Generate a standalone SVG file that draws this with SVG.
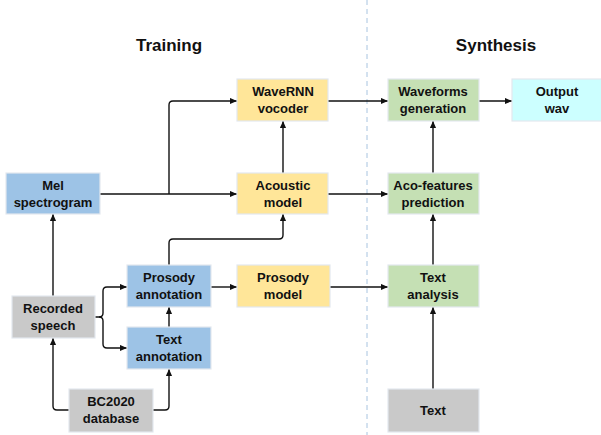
<svg xmlns="http://www.w3.org/2000/svg" width="601" height="435" viewBox="0 0 601 435">
<style>
text{font-family:"Liberation Sans",Arial,sans-serif;font-weight:bold;font-size:13px;fill:#111;text-anchor:middle}
.t{font-size:17px}
.box{stroke:#e3e8ee;stroke-width:1.2}
.blue{fill:#9DC3E6}.yel{fill:#FFE699}.grn{fill:#C5E0B4}.gry{fill:#C9C9C9}.cyn{fill:#CCFFFF}
.c{fill:none;stroke:#111;stroke-width:1.4}
</style>
<defs>
<marker id="a" viewBox="0 0 8 8" refX="8" refY="4" markerWidth="7" markerHeight="7" markerUnits="userSpaceOnUse" orient="auto">
<path d="M0,0.5 L8,4 L0,7.5 z" fill="#111"/>
</marker>
</defs>
<line x1="367" y1="0" x2="367" y2="435" stroke="#a8c4e0" stroke-width="1" stroke-dasharray="5,4"/>
<text class="t" x="169" y="51">Training</text>
<text class="t" x="496" y="51">Synthesis</text>
<g id="connectors">
<path class="c" d="M100,194 H237" marker-end="url(#a)"/>
<path class="c" d="M169,194 V105 Q169,101 173,101 H237" marker-end="url(#a)"/>
<path class="c" d="M283,173 V121" marker-end="url(#a)"/>
<path class="c" d="M328,101 H388" marker-end="url(#a)"/>
<path class="c" d="M328,194 H388" marker-end="url(#a)"/>
<path class="c" d="M479,101 H512" marker-end="url(#a)"/>
<path class="c" d="M433,173 V121" marker-end="url(#a)"/>
<path class="c" d="M433,265 V214" marker-end="url(#a)"/>
<path class="c" d="M433,389 V307" marker-end="url(#a)"/>
<path class="c" d="M330,287 H388" marker-end="url(#a)"/>
<path class="c" d="M211,287 H237" marker-end="url(#a)"/>
<path class="c" d="M169,265 V243 Q169,239 173,239 H279 Q283,239 283,235 V214" marker-end="url(#a)"/>
<path class="c" d="M169,327 V307" marker-end="url(#a)"/>
<path class="c" d="M95,317 H99 Q103,317 103,313 V291 Q103,287 107,287 H127" marker-end="url(#a)"/>
<path class="c" d="M99,317 Q103,317 103,321 V344 Q103,348 107,348 H127" marker-end="url(#a)"/>
<path class="c" d="M53,296 V214" marker-end="url(#a)"/>
<path class="c" d="M69,410 H57 Q53,410 53,406 V338" marker-end="url(#a)"/>
<path class="c" d="M153,410 H165 Q169,410 169,406 V369" marker-end="url(#a)"/>
</g>
<g id="mel"><rect class="box blue" x="6" y="173" width="94" height="41"/><text x="53" y="190">Mel</text><text x="53" y="207">spectrogram</text></g>
<g id="wavernn"><rect class="box yel" x="237" y="79" width="91" height="42"/><text x="283" y="96">WaveRNN</text><text x="283" y="113">vocoder</text></g>
<g id="acoustic"><rect class="box yel" x="237" y="173" width="91" height="41"/><text x="283" y="190">Acoustic</text><text x="283" y="207">model</text></g>
<g id="prosody-model"><rect class="box yel" x="237" y="265" width="93" height="42"/><text x="283" y="282">Prosody</text><text x="283" y="299">model</text></g>
<g id="prosody-annotation"><rect class="box blue" x="127" y="265" width="84" height="42"/><text x="169" y="282">Prosody</text><text x="169" y="299">annotation</text></g>
<g id="text-annotation"><rect class="box blue" x="127" y="327" width="84" height="42"/><text x="169" y="344">Text</text><text x="169" y="361">annotation</text></g>
<g id="recorded"><rect class="box gry" x="12" y="296" width="83" height="42"/><text x="53" y="313">Recorded</text><text x="53" y="330">speech</text></g>
<g id="bc2020"><rect class="box gry" x="69" y="389" width="84" height="43"/><text x="111" y="406">BC2020</text><text x="111" y="423">database</text></g>
<g id="waveforms"><rect class="box grn" x="388" y="79" width="91" height="42"/><text x="433" y="96">Waveforms</text><text x="433" y="113">generation</text></g>
<g id="output"><rect class="box cyn" x="512" y="79" width="90" height="42"/><text x="557" y="96">Output</text><text x="557" y="113">wav</text></g>
<g id="aco"><rect class="box grn" x="388" y="173" width="91" height="41"/><text x="433" y="190">Aco-features</text><text x="433" y="207">prediction</text></g>
<g id="text-analysis"><rect class="box grn" x="388" y="265" width="91" height="42"/><text x="433" y="282">Text</text><text x="433" y="299">analysis</text></g>
<g id="text"><rect class="box gry" x="388" y="389" width="91" height="43"/><text x="433" y="415">Text</text></g>
</svg>
